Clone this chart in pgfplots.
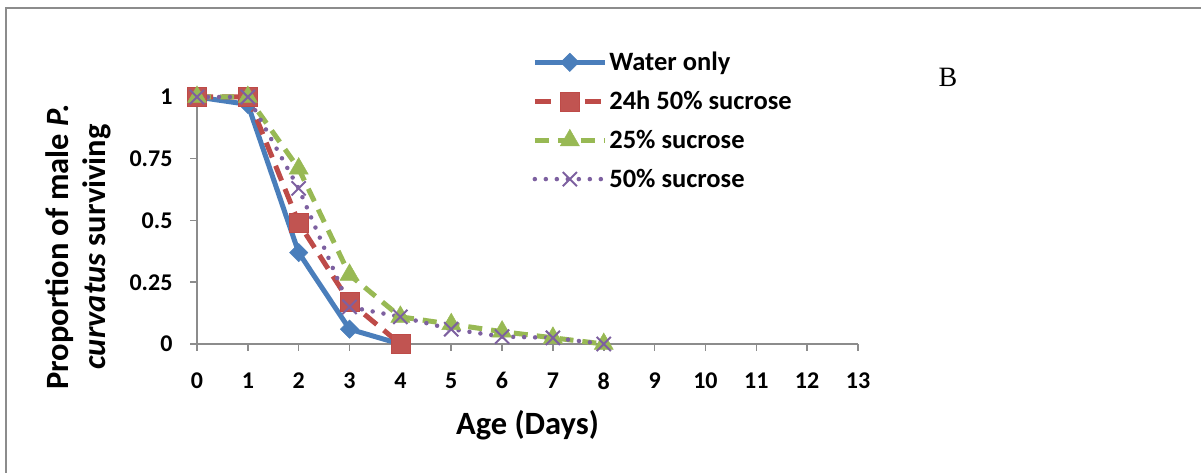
\documentclass[border=0pt]{standalone}
\usepackage{pgfplots}
\pgfplotsset{compat=1.18}
\usepackage{fontspec}
\setmainfont{Carlito}
\newfontfamily\timesfont{Liberation Serif}

\definecolor{wblue}{HTML}{4A7EBB}
\definecolor{wred}{HTML}{BE4B48}
\definecolor{wgreen}{HTML}{98B954}
\definecolor{wpurple}{HTML}{7D60A0}
\definecolor{frame}{HTML}{8C8C8C}

\begin{document}
\begin{tikzpicture}
\useasboundingbox (0,0) rectangle (1201pt,473pt);
% outer chart frame (only top and left edges are visible)
\draw[frame, line width=2pt] (5.5pt,0pt) -- (5.5pt,464.5pt) -- (1201pt,464.5pt);

\begin{axis}[
    at={(197pt,129pt)}, anchor=south west,
    scale only axis,
    width=661pt, height=247pt,
    xmin=0, xmax=13, ymin=0, ymax=1,
    axis x line*=bottom, axis y line*=left,
    axis line style={frame, line width=1.5pt},
    xtick={0,1,...,13},
    ytick={0,0.25,0.5,0.75,1},
    yticklabels={0,0.25,0.5,0.75,1},
    tick align=outside,
    major tick length=7pt,
    tick style={frame, line width=1.5pt},
    /pgf/number format/assume math mode=true,
    ticklabel style={font=\bfseries\fontsize{24}{28}\selectfont},
    xticklabel style={yshift=-18pt},
    yticklabel style={xshift=-14pt},
    xlabel={Age (Days)},
    xlabel style={font=\bfseries\fontsize{32.5}{36}\selectfont,
                  at={(axis description cs:0.5,-0.328)}, anchor=center},
    ylabel={Proportion of male \textit{P.}\\\textit{curvatus} surviving},
    ylabel style={font=\bfseries\fontsize{32.5}{37}\selectfont, align=center,
                  at={(axis description cs:-0.18,0.393)}, anchor=center},
    legend style={draw=none, fill=none,
                  at={(axis description cs:0.507,1.19)}, anchor=north west,
                  font=\bfseries\fontsize{26.5}{30}\selectfont,
                  row sep=15pt, inner sep=0pt},
    legend cell align=left,
    legend image code/.code={
        \draw[mark repeat=2, mark phase=2, #1]
            plot coordinates {(0pt,0pt) (35pt,0pt) (70pt,0pt)};
    },
    clip=false,
]

% Water only
\addplot[wblue, line width=5pt, mark=square*,
    mark options={solid, rotate=45, fill=wblue, draw=wblue, line width=0.5pt},
    mark size=6.5pt] coordinates {
    (0,1) (1,0.97) (2,0.37) (3,0.06) (4,0)
};
\addlegendentry{Water only}

% 24h 50% sucrose
\addplot[wred, line width=5pt, dash pattern=on 16pt off 9pt, mark=square*,
    mark options={solid, fill=wred!95!white, draw=wred, line width=0.5pt},
    mark size=9.5pt] coordinates {
    (0,1) (1,1) (2,0.49) (3,0.17) (4,0)
};
\addlegendentry{24h 50\% sucrose}

% 25% sucrose
\addplot[wgreen, line width=5pt, dash pattern=on 14pt off 9pt, mark=triangle*,
    mark options={solid, fill=wgreen, draw=wgreen, line width=0.5pt},
    mark size=11pt] coordinates {
    (0,1) (1,1) (2,0.71) (3,0.28) (4,0.11) (5,0.08) (6,0.05) (7,0.025) (8,0)
};
\addlegendentry{25\% sucrose}

% 50% sucrose
\addplot[wpurple, line width=4.5pt, line cap=round, dash pattern=on 0pt off 11pt,
    mark=x, mark options={solid, line cap=butt, line width=2pt},
    mark size=10pt] coordinates {
    (0,1) (1,1) (2,0.63) (3,0.15) (4,0.11) (5,0.06) (6,0.03) (7,0.025) (8,0)
};
\addlegendentry{50\% sucrose}

\end{axis}

\node[font=\timesfont\fontsize{28}{32}\selectfont] at (948pt,396pt) {B};
\end{tikzpicture}
\end{document}
